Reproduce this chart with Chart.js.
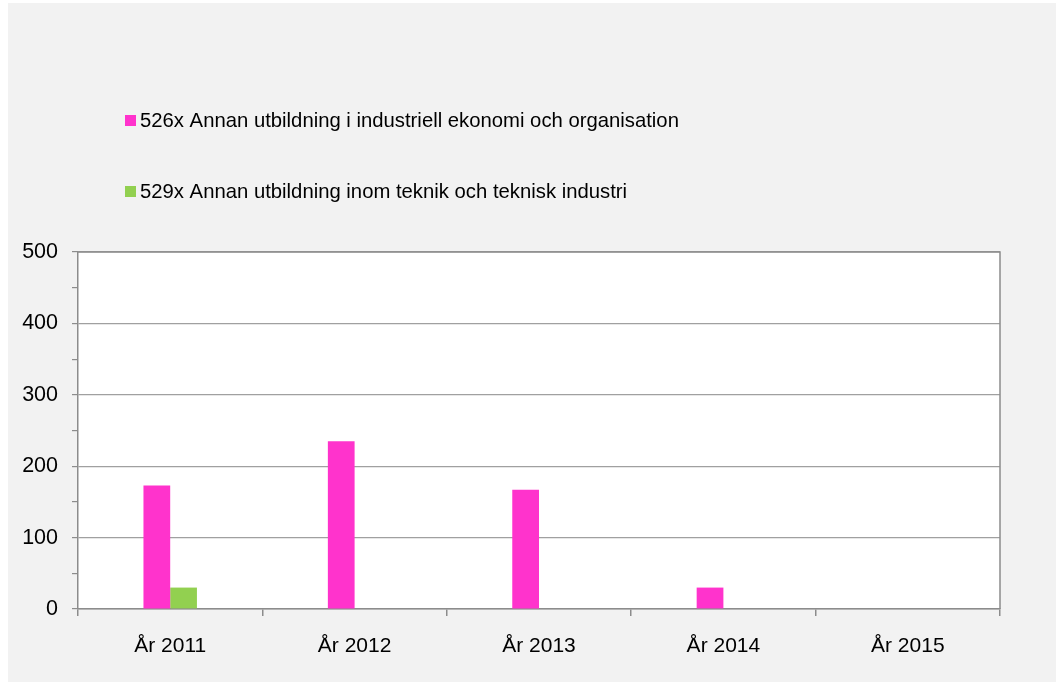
<!DOCTYPE html>
<html lang="sv">
  <head>
    <meta charset="UTF-8">
    <script src="https://cdn.jsdelivr.net/npm/chart.js"></script>
    <title>Utbildning</title>
    <style>
      body{margin: 0; background: #fff;}
      #wrap{position: absolute; left: 8px; top: 3px; width: 1048px; height: 679px; background: #f2f2f2;}
    </style>
  </head>
  <body>
    <div id="wrap">
      <canvas id="myChart"></canvas>
    </div>
    <script>
      // data
      const years = ['År 2011', 'År 2012', 'År 2013', 'År 2014', 'År 2015'];
      const seriesNames = [
        '526x Annan utbildning i industriell ekonomi och organisation',
        '529x Annan utbildning inom teknik och teknisk industri'
      ];
      const values526 = [173, 235, 167, 30, 0];
      const values529 = [30, 0, 0, 0, 0];
      const yTicks = [0, 100, 200, 300, 400, 500];

      const FONT = "'Liberation Sans', Arial, sans-serif";

      // white plot area + border
      const plotBg = {
        id: 'plotBg',
        beforeDraw(chart){
          const {ctx, chartArea: a} = chart;
          ctx.save();
          ctx.fillStyle = '#fff';
          ctx.fillRect(a.left, a.top, a.right - a.left, a.bottom - a.top);
          ctx.restore();
        },
        afterDatasetsDraw(chart){
          const {ctx, chartArea: a} = chart;
          ctx.save();
          ctx.strokeStyle = '#8c8c8c';
          ctx.lineWidth = 1.5;
          ctx.beginPath();
          ctx.moveTo(a.left, a.top);
          ctx.lineTo(a.right, a.top);
          ctx.lineTo(a.right, a.bottom);
          ctx.stroke();
          ctx.restore();
        }
      };

      // vertical legend, top left
      const sideLegend = {
        id: 'sideLegend',
        afterDraw(chart){
          const ctx = chart.ctx;
          ctx.save();
          ctx.font = '20.3px ' + FONT;
          ctx.textBaseline = 'middle';
          chart.data.datasets.forEach(function(ds, i){
            const y = 117.5 + i * 71;
            ctx.fillStyle = ds.backgroundColor;
            ctx.fillRect(117, y - 5.5, 11, 11);
            ctx.fillStyle = '#000';
            ctx.fillText(ds.label, 132, y + 1);
          });
          ctx.restore();
        }
      };

      new Chart(document.getElementById('myChart'), {
        type: 'bar',
        data: {
          labels: years,
          datasets: [
            {label: seriesNames[0], data: values526, backgroundColor: '#ff33cc', borderWidth: 0},
            {label: seriesNames[1], data: values529, backgroundColor: '#92d050', borderWidth: 0}
          ]
        },
        options: {
          responsive: true,
          maintainAspectRatio: false,
          animation: false,
          datasets: {bar: {categoryPercentage: 0.29, barPercentage: 1}},
          layout: {padding: {top: 249, right: 56, left: 0, bottom: 0}},
          plugins: {legend: {display: false}, tooltip: {enabled: false}},
          scales: {
            x: {
              offset: true,
              grid: {offset: true, drawOnChartArea: false, tickLength: 7, color: '#8c8c8c', lineWidth: 1.5},
              border: {color: '#8c8c8c', width: 1.5},
              ticks: {color: '#000', font: {family: FONT, size: 21}, padding: 18, maxRotation: 0},
              afterFit(scale){ scale.height = 73; }
            },
            y: {
              min: 0,
              max: 500,
              grid: {
                tickLength: 6,
                lineWidth: 1.2,
                color: c => (c.tick && yTicks.includes(c.tick.value)) ? '#a0a0a0' : 'rgba(0,0,0,0)',
                tickColor: '#8c8c8c'
              },
              border: {color: '#8c8c8c', width: 1.5},
              ticks: {
                stepSize: 50,
                color: '#000',
                font: {family: FONT, size: 21.5},
                padding: 14,
                callback: v => yTicks.includes(v) ? v : ''
              },
              afterFit(scale){ scale.width = 70; }
            }
          }
        },
        plugins: [plotBg, sideLegend]
      });
    </script>
  </body>
</html>
